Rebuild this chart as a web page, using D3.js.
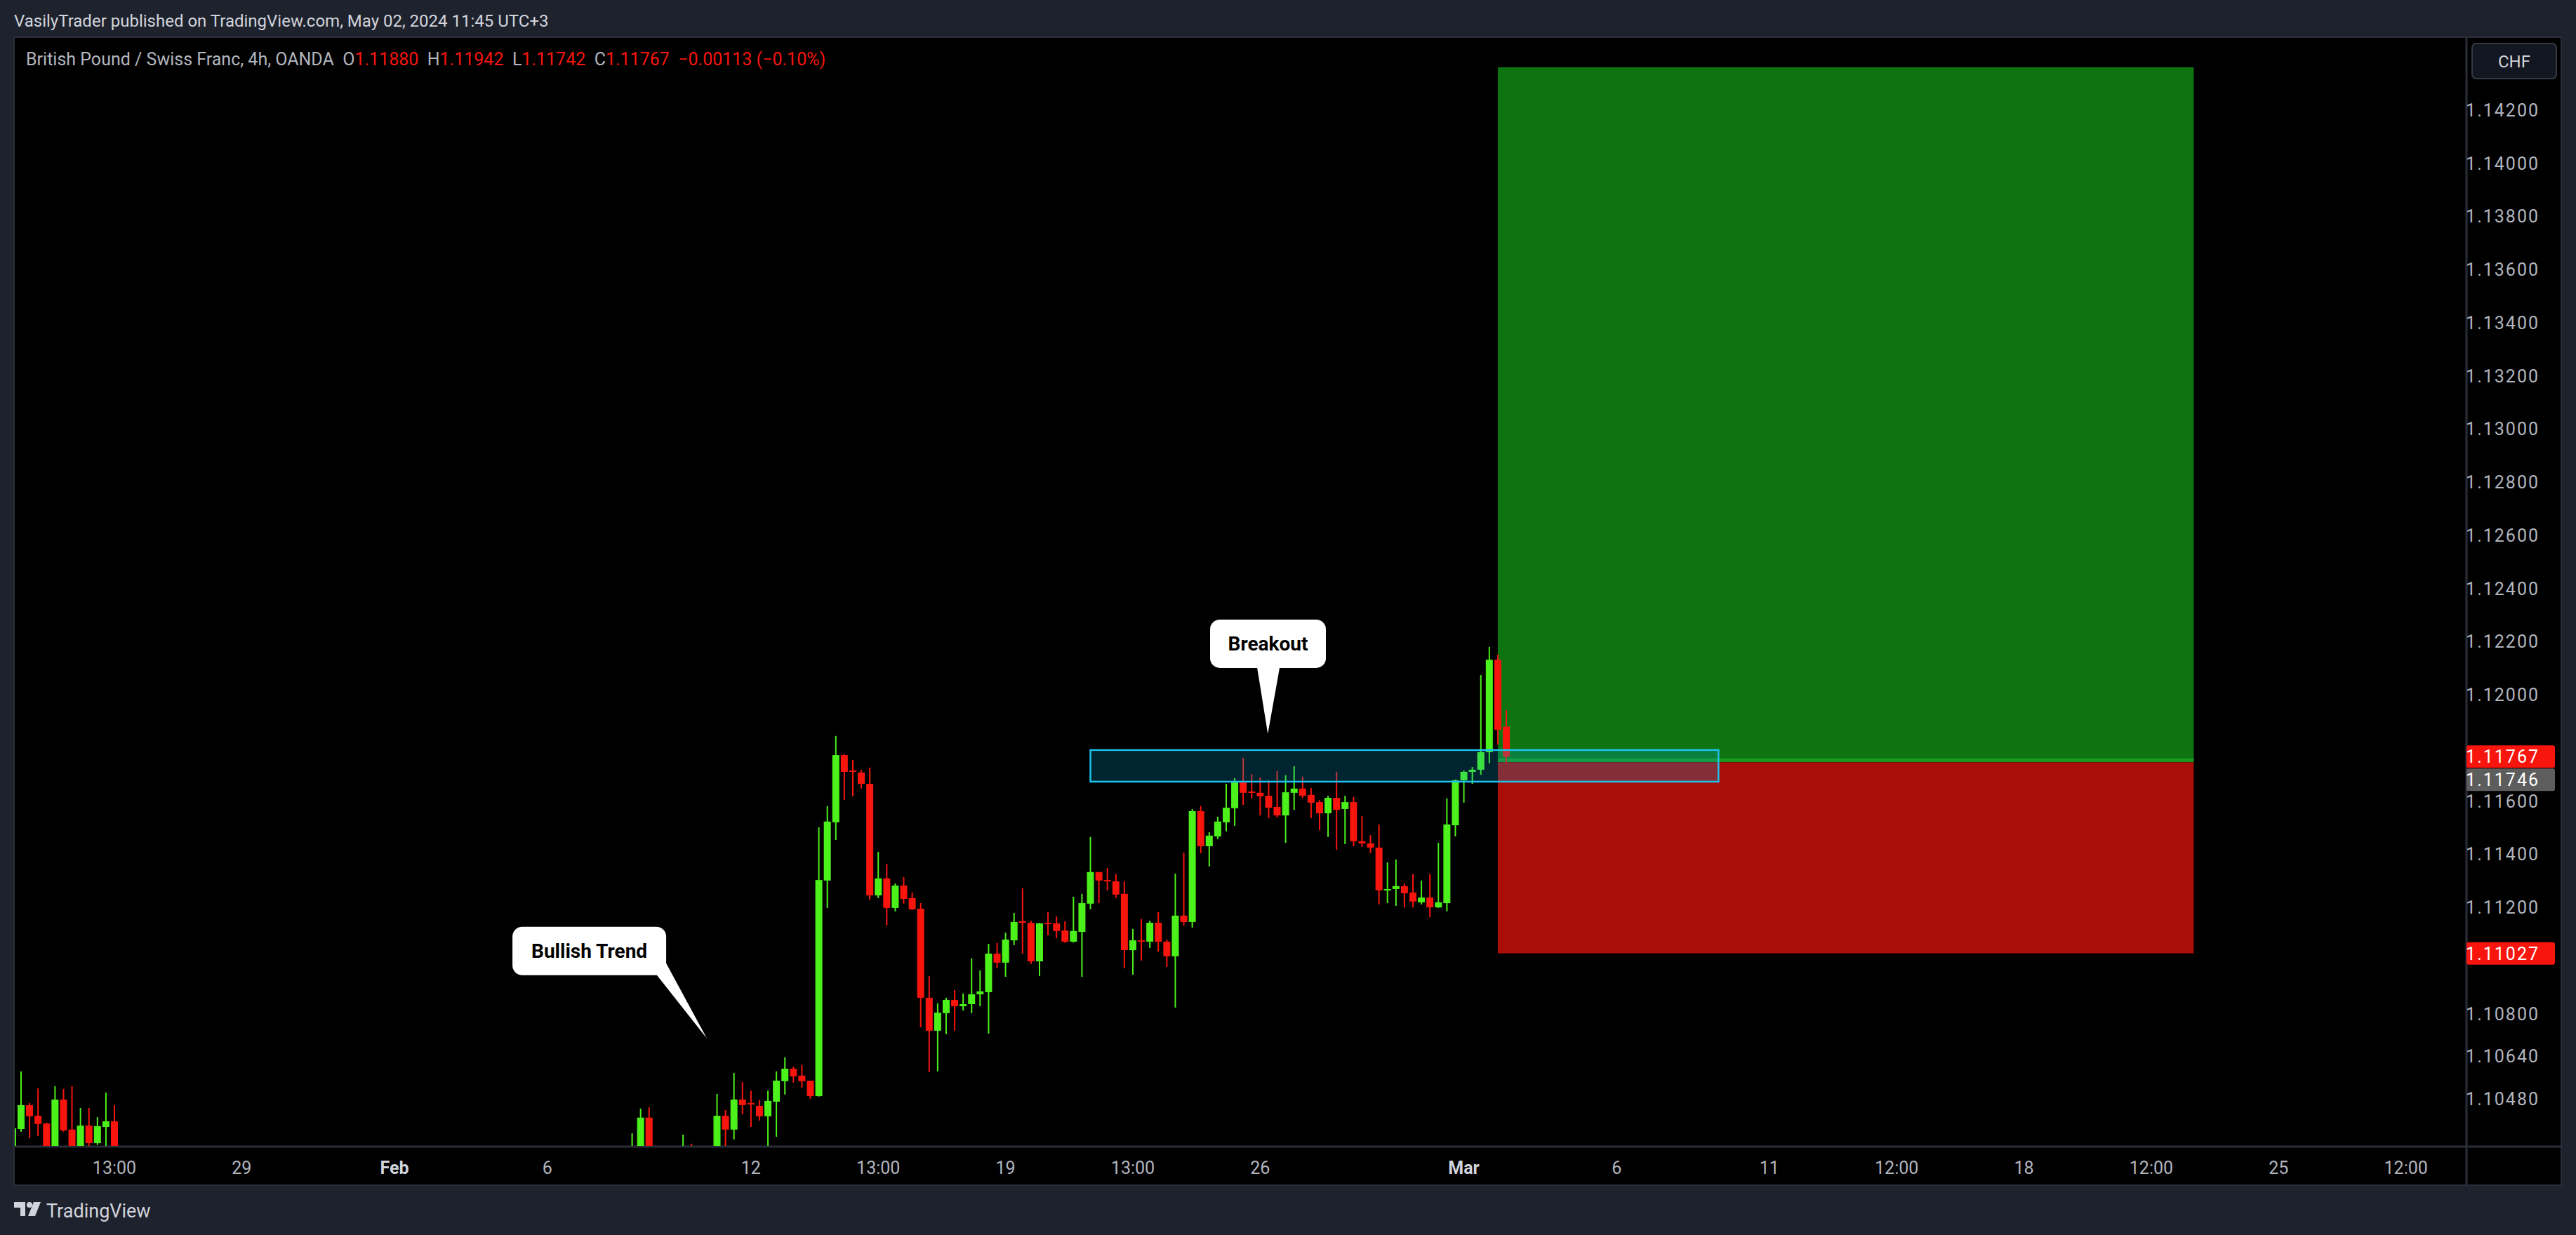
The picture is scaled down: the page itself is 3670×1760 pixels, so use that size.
<!DOCTYPE html>
<html><head><meta charset="utf-8">
<script src="https://cdn.jsdelivr.net/npm/d3@7"></script>
<style>html,body{margin:0;padding:0;background:#1e222d;}svg{display:block;}</style>
</head><body>
<svg id="c" width="3670" height="1760"></svg>
<script>
// ---- DATA ----
const barIndex = [-1,0,1,2,3,4,5,6,7,8,9,10,11,72,73,74,78,79,82,83,84,85,86,87,88,89,90,91,92,93,94,95,96,97,98,99,100,101,102,103,104,105,106,107,108,109,110,111,112,113,114,115,116,117,118,119,120,121,122,123,124,125,126,127,128,129,130,131,132,133,134,135,136,137,138,139,140,141,142,143,144,145,146,147,148,149,150,151,152,153,154,155,156,157,158,159,160,161,162,163,164,165,166,167,168,169,170,171,172,173,174,175];
const open  = [1.10232,1.10366,1.10456,1.10416,1.10387,1.10284,1.10477,1.10364,1.10284,1.10379,1.10313,1.10374,1.10395,1.10232,1.10232,1.10409,1.10232,1.10284,1.10258,1.10416,1.10364,1.10477,1.10464,1.10453,1.10414,1.10469,1.10546,1.10593,1.10567,1.10548,1.10490,1.11301,1.11520,1.11773,1.11715,1.11707,1.11665,1.11245,1.11309,1.11198,1.11282,1.11235,1.11195,1.10860,1.10736,1.10802,1.10852,1.10828,1.10836,1.10873,1.10881,1.11026,1.10992,1.11076,1.11148,1.11142,1.10997,1.11142,1.11140,1.11113,1.11071,1.11108,1.11214,1.11333,1.11303,1.11298,1.11251,1.11039,1.11076,1.11071,1.11142,1.11071,1.11016,1.11169,1.11145,1.11562,1.11430,1.11467,1.11520,1.11573,1.11670,1.11636,1.11631,1.11620,1.11578,1.11546,1.11631,1.11647,1.11623,1.11596,1.11554,1.11612,1.11570,1.11596,1.11449,1.11441,1.11425,1.11264,1.11269,1.11280,1.11256,1.11219,1.11237,1.11200,1.11216,1.11509,1.11678,1.11710,1.11718,1.11784,1.12132,1.11880];
const high  = [1.10369,1.10583,1.10464,1.10519,1.10390,1.10527,1.10517,1.10527,1.10445,1.10445,1.10411,1.10503,1.10456,1.10350,1.10443,1.10448,1.10345,1.10311,1.10498,1.10438,1.10577,1.10543,1.10511,1.10475,1.10511,1.10583,1.10636,1.10601,1.10607,1.10548,1.11501,1.11581,1.11845,1.11776,1.11755,1.11718,1.11726,1.11409,1.11364,1.11290,1.11314,1.11256,1.11216,1.10942,1.10839,1.10860,1.10889,1.10876,1.11008,1.10963,1.11063,1.11066,1.11105,1.11179,1.11272,1.11150,1.11142,1.11182,1.11166,1.11148,1.11240,1.11251,1.11465,1.11333,1.11348,1.11325,1.11298,1.11119,1.11156,1.11150,1.11182,1.11079,1.11327,1.11406,1.11570,1.11581,1.11483,1.11541,1.11665,1.11686,1.11763,1.11702,1.11689,1.11678,1.11713,1.11697,1.11731,1.11692,1.11649,1.11604,1.11620,1.11710,1.11620,1.11615,1.11544,1.11472,1.11512,1.11369,1.11380,1.11290,1.11325,1.11301,1.11325,1.11443,1.11610,1.11681,1.11715,1.11728,1.12074,1.12180,1.12151,1.11942];
const low   = [1.10218,1.10356,1.10332,1.10340,1.10271,1.10271,1.10356,1.10271,1.10271,1.10284,1.10306,1.10284,1.10271,1.10218,1.10218,1.10218,1.10205,1.10232,1.10232,1.10303,1.10327,1.10422,1.10374,1.10398,1.10303,1.10337,1.10496,1.10541,1.10522,1.10480,1.10488,1.11198,1.11454,1.11604,1.11618,1.11647,1.11229,1.11235,1.11132,1.11185,1.11214,1.11190,1.10749,1.10580,1.10583,1.10723,1.10736,1.10812,1.10802,1.10828,1.10725,1.10971,1.10939,1.11058,1.11026,1.10987,1.10942,1.11095,1.11084,1.11066,1.11068,1.10939,1.11193,1.11216,1.11264,1.11235,1.10971,1.10947,1.11000,1.11047,1.11034,1.10976,1.10823,1.11132,1.11124,1.11404,1.11354,1.11457,1.11486,1.11507,1.11586,1.11610,1.11546,1.11536,1.11538,1.11443,1.11567,1.11612,1.11536,1.11491,1.11465,1.11417,1.11438,1.11430,1.11428,1.11404,1.11211,1.11216,1.11206,1.11200,1.11200,1.11211,1.11163,1.11198,1.11185,1.11467,1.11594,1.11665,1.11699,1.11742,1.11813,1.11742];
const close = [1.10369,1.10456,1.10414,1.10385,1.10284,1.10477,1.10361,1.10284,1.10379,1.10313,1.10377,1.10395,1.10284,1.10284,1.10409,1.10232,1.10271,1.10258,1.10416,1.10364,1.10477,1.10456,1.10459,1.10414,1.10472,1.10548,1.10593,1.10564,1.10546,1.10490,1.11303,1.11523,1.11773,1.11710,1.11710,1.11665,1.11245,1.11309,1.11198,1.11282,1.11232,1.11193,1.10860,1.10736,1.10804,1.10852,1.10828,1.10836,1.10873,1.10884,1.11026,1.10992,1.11079,1.11145,1.11142,1.10997,1.11140,1.11137,1.11111,1.11071,1.11111,1.11216,1.11333,1.11301,1.11298,1.11248,1.11039,1.11076,1.11071,1.11142,1.11071,1.11016,1.11169,1.11145,1.11562,1.11430,1.11470,1.11523,1.11575,1.11670,1.11631,1.11631,1.11618,1.11575,1.11546,1.11633,1.11647,1.11620,1.11594,1.11554,1.11612,1.11567,1.11596,1.11449,1.11441,1.11425,1.11264,1.11269,1.11280,1.11253,1.11222,1.11237,1.11200,1.11219,1.11512,1.11678,1.11710,1.11718,1.11784,1.12132,1.11868,1.11767];

const priceTicks = [1.142,1.140,1.138,1.136,1.134,1.132,1.130,1.128,1.126,1.124,1.122,1.120,1.116,1.114,1.112,1.108,1.1064,1.1048];
const timeTickPos = [11,26,44,62,86,101,116,131,146,170,188,206,221,236,251,266,281];
const timeTickLabels = ["13:00","29","Feb","6","12","13:00","19","13:00","26","Mar","6","11","12:00","18","12:00","25","12:00"];
const boldTicks = ["Feb","Mar"];

const zone = {i0:126, i1:200, top:1.11792, bottom:1.11673};
const tool = {i0:174, i1:256, target:1.14361, entry:1.11746, stop:1.11027};
const priceTags = [{v:1.11767,c:"#f7150d"},{v:1.11746,c:"#5d5d5d"},{v:1.11027,c:"#f7150d"}];
const callouts = [
  {text:"Bullish Trend", i:57.9, p:1.11127, w:219, h:69, tipI:80.8, tipP:1.10707, tailA:205, tailB:219, tailBy:52},
  {text:"Breakout", i:140.1, p:1.12283, w:165, h:69, tipI:146.9, tipP:1.11853, tailA:67, tailB:99, tailBy:69}
];

// ---- LAYOUT ----
const svg = d3.select("#c");
const W=3670,H=1760;
const plotL=20, plotR=3514, plotT=53, plotB=1634, panelR=3649, panelB=1689;
const x = d3.scaleLinear().domain([0,175]).range([30,2146]);
const y = d3.scaleLinear().domain([1.103,1.14614]).range([1634,0]);
const GREEN="#4cf01a", RED="#f7150d";
const font="Roboto, 'Liberation Sans', sans-serif";

svg.append("rect").attr("width",W).attr("height",H).attr("fill","#1e222d");
svg.append("rect").attr("x",plotL).attr("y",plotT).attr("width",panelR-plotL).attr("height",panelB-plotT).attr("fill","#000").attr("stroke","#2a2e39").attr("stroke-width",2);
svg.append("line").attr("x1",plotL).attr("x2",panelR).attr("y1",plotB).attr("y2",plotB).attr("stroke","#2a2e39").attr("stroke-width",3);
svg.append("line").attr("x1",plotR).attr("x2",plotR).attr("y1",plotT).attr("y2",panelB).attr("stroke","#2a2e39").attr("stroke-width",3);

svg.append("defs").append("clipPath").attr("id","clip").append("rect")
  .attr("x",plotL+1).attr("y",plotT+1).attr("width",plotR-plotL-2).attr("height",plotB-plotT-2);
const g = svg.append("g").attr("clip-path","url(#clip)");

// position tool
g.append("rect").attr("x",x(tool.i0)).attr("width",x(tool.i1)-x(tool.i0))
  .attr("y",y(tool.target)).attr("height",y(tool.entry)-y(tool.target)).attr("fill","#0e7412");
g.append("rect").attr("x",x(tool.i0)).attr("width",x(tool.i1)-x(tool.i0))
  .attr("y",y(tool.entry)).attr("height",y(tool.stop)-y(tool.entry)).attr("fill","#aa0e09");
g.append("line").attr("x1",x(tool.i0)).attr("x2",x(tool.i1)).attr("y1",y(tool.entry)-3).attr("y2",y(tool.entry)-3).attr("stroke","#1a9a1e").attr("stroke-width",5);

// candles
const bars = barIndex.map((i,k)=>({i,o:open[k],h:high[k],l:low[k],c:close[k]}));
const cg = g.append("g");
bars.forEach(b=>{
  const col = b.c>=b.o?GREEN:RED;
  cg.append("rect").attr("x",x(b.i)-1).attr("width",2).attr("y",y(b.h)).attr("height",Math.max(1,y(b.l)-y(b.h))).attr("fill",col);
  const t=y(Math.max(b.o,b.c)), bt=y(Math.min(b.o,b.c));
  cg.append("rect").attr("x",x(b.i)-5).attr("width",10).attr("y",t).attr("height",Math.max(2,bt-t)).attr("fill",col);
});

// zone
g.append("rect").attr("x",x(zone.i0)).attr("width",x(zone.i1)-x(zone.i0))
  .attr("y",y(zone.top)).attr("height",y(zone.bottom)-y(zone.top))
  .attr("fill","rgba(0,170,220,0.22)").attr("stroke","#1cc2ee").attr("stroke-width",2.5);

// callouts
callouts.forEach(c=>{
  const bx=x(c.i), by=y(c.p);
  const gg=g.append("g");
  gg.append("rect").attr("x",bx).attr("y",by).attr("width",c.w).attr("height",c.h).attr("rx",14).attr("fill","#fff");
  gg.append("path").attr("d",`M${bx+c.tailA},${by+c.h-1} L${bx+c.tailB},${by+c.tailBy} L${x(c.tipI)},${y(c.tipP)} Z`).attr("fill","#fff");
  gg.append("text").attr("x",bx+c.w/2).attr("y",by+c.h/2+10).attr("text-anchor","middle")
    .attr("font-family",font).attr("font-weight","bold").attr("font-size",28).attr("fill","#000").text(c.text);
});

// price axis
const ax = svg.append("g");
priceTicks.forEach(v=>{
  ax.append("text").attr("x",3618).attr("y",y(v)+9).attr("text-anchor","end")
    .attr("font-family",font).attr("font-size",25).attr("letter-spacing",2).attr("fill","#b2b5be").text(v.toFixed(5));
});
// tags, pushed apart when they collide
let prevBottom=-1e9;
priceTags.forEach(t=>{
  let cy=y(t.v);
  if (cy-16 < prevBottom) cy = prevBottom+16;
  prevBottom = cy+17;
  ax.append("rect").attr("x",plotR).attr("y",cy-16).attr("width",126).attr("height",32).attr("rx",3).attr("fill",t.c);
  ax.append("text").attr("x",3618).attr("y",cy+9).attr("text-anchor","end")
    .attr("font-family",font).attr("font-size",25).attr("letter-spacing",2).attr("fill","#fff").text(t.v.toFixed(5));
});
// CHF button
svg.append("rect").attr("x",3522).attr("y",62).attr("width",120).attr("height",50).attr("rx",6).attr("fill","#131722").attr("stroke","#363a45").attr("stroke-width",2);
svg.append("text").attr("x",3582).attr("y",96).attr("text-anchor","middle").attr("font-family",font).attr("font-size",24).attr("fill","#d1d4dc").text("CHF");

// time axis
timeTickPos.forEach((p,k)=>{
  const lab=timeTickLabels[k];
  svg.append("text").attr("x",x(p)).attr("y",1673).attr("text-anchor","middle")
    .attr("font-family",font).attr("font-size",25).attr("font-weight",boldTicks.includes(lab)?"bold":"normal")
    .attr("fill",boldTicks.includes(lab)?"#d1d4dc":"#b2b5be").text(lab);
});

// header
svg.append("text").attr("x",20).attr("y",38).attr("font-family",font).attr("font-size",24).attr("fill","#d1d4dc")
  .text("VasilyTrader published on TradingView.com, May 02, 2024 11:45 UTC+3");
const leg = svg.append("text").attr("x",37).attr("y",93).attr("font-family",font).attr("font-size",25).attr("fill","#b2b5be");
const legParts=[["British Pound / Swiss Franc, 4h, OANDA  ","#b2b5be"],["O","#b2b5be"],["1.11880  ",RED],["H","#b2b5be"],["1.11942  ",RED],["L","#b2b5be"],["1.11742  ",RED],["C","#b2b5be"],["1.11767  ",RED],["\u22120.00113 (\u22120.10%)",RED]];
legParts.forEach(p=>leg.append("tspan").attr("fill",p[1]).style("white-space","pre").text(p[0]));

// footer logo
const lg = svg.append("g").attr("transform","translate(20,1713)").attr("fill","#d1d4dc");
lg.append("path").attr("d","M0,0 H16 V20 H9 V8 H0 Z");
lg.append("circle").attr("cx",22).attr("cy",4).attr("r",4);
lg.append("path").attr("d","M28,0 H38 L30,20 H20 Z");
svg.append("text").attr("x",66).attr("y",1735).attr("font-family",font).attr("font-size",27).attr("fill","#d1d4dc").text("TradingView");
</script>
</body></html>
